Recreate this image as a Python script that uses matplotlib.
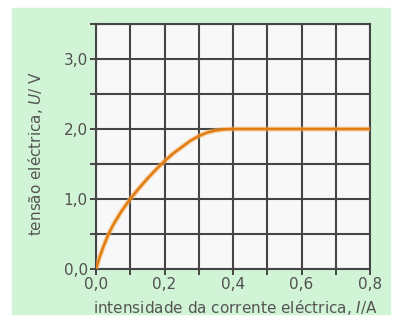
import matplotlib; matplotlib.use("Agg")
import matplotlib.pyplot as plt
from matplotlib.patches import Rectangle

# corrente (A) e tensão (V)
current = [0.0, 0.01, 0.02, 0.035, 0.05, 0.075, 0.1, 0.125, 0.15, 0.175, 0.2, 0.225, 0.25,
           0.275, 0.3, 0.325, 0.35, 0.375, 0.4, 0.5, 0.6, 0.7, 0.8]
voltage = [0.0, 0.16, 0.3, 0.48, 0.63, 0.83, 1.0, 1.15, 1.29, 1.42, 1.54, 1.65, 1.74,
           1.83, 1.90, 1.95, 1.98, 1.995, 2.0, 2.0, 2.0, 2.0, 2.0]
xticklabels = ["0,0", "0,2", "0,4", "0,6", "0,8"]
yticklabels = ["0,0", "1,0", "2,0", "3,0"]

W, H = 401, 324
fig = plt.figure(figsize=(W/100, H/100), dpi=100, facecolor="white")
bg = Rectangle((12/W, 1-314/H), (390-12)/W, (314-8)/H,
               transform=fig.transFigure, color="#d2f4d6", zorder=-10)
fig.add_artist(bg)
ax = fig.add_axes([96/W, 1-269/H, (370-96)/W, (269-24)/H])
ax.set_zorder(1)
ax.set_facecolor("#f8f8f8")
gc = "#454545"
ax.set_xlim(0, 0.8); ax.set_ylim(0, 3.5)
ax.set_xticks([i*0.1 for i in range(9)])
ax.set_xticklabels([xticklabels[i//2] if i % 2 == 0 else "" for i in range(9)])
ax.set_yticks([i*0.5 for i in range(8)])
ax.set_yticklabels([yticklabels[i//2] if i % 2 == 0 else "" for i in range(8)])
ax.grid(True, color=gc, lw=1.5)
ax.set_axisbelow(True)
for sp in ax.spines.values(): sp.set_color(gc); sp.set_linewidth(1.5)
ax.tick_params(color=gc, width=1.4, length=4, labelcolor="#505050", labelsize=11, pad=2)
ax.plot(current, voltage, color="#f6b060", lw=3.6, alpha=0.55, zorder=3, solid_capstyle="butt")
ax.plot(current, voltage, color="#e07c10", lw=1.8, zorder=4)
ax.set_xlabel("intensidade da corrente eléctrica, $\\it{I}$/A", color="#555555", fontsize=11)
ax.set_ylabel("tensão eléctrica, $\\it{U}$/ V", color="#555555", fontsize=11)
ax.xaxis.set_label_coords(0.51, -0.12)
ax.yaxis.set_label_coords(-0.185, 0.47)
fig.savefig("out.png", dpi=100, facecolor="white")
